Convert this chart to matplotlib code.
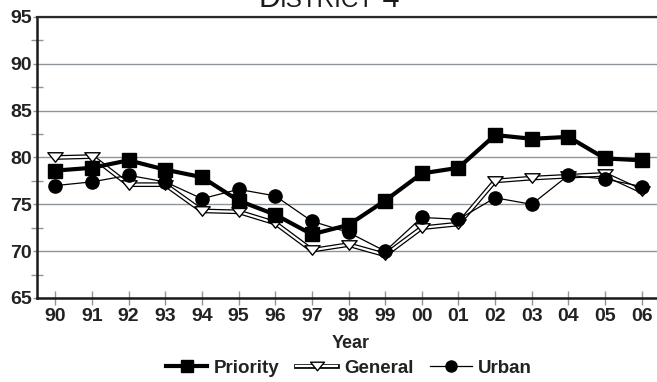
import matplotlib
matplotlib.use("Agg")
import matplotlib.pyplot as plt
from matplotlib.lines import Line2D
from matplotlib.path import Path
from matplotlib.legend_handler import HandlerTuple
from matplotlib.ticker import MultipleLocator

plt.rcParams['font.family'] = ['Liberation Sans', 'DejaVu Sans']

years = ["90", "91", "92", "93", "94", "95", "96", "97", "98",
         "99", "00", "01", "02", "03", "04", "05", "06"]
priority = [78.6, 78.9, 79.7, 78.7, 77.9, 75.4, 73.9, 71.8, 72.8,
            75.4, 78.3, 78.9, 82.4, 82.0, 82.2, 79.9, 79.7]
general = [80.0, 80.1, 77.1, 77.1, 74.3, 74.2, 73.0, 70.1, 70.7,
           69.6, 72.5, 72.9, 77.5, 77.8, 78.0, 78.2, 76.4]
urban = [77.0, 77.4, 78.1, 77.4, 75.6, 76.6, 75.9, 73.2, 72.0,
         70.0, 73.6, 73.4, 75.7, 75.0, 78.1, 77.7, 76.9]

W, H = 657, 382
fig = plt.figure(figsize=(W / 100, H / 100), dpi=100)
ax = fig.add_axes([37 / W, (H - 298) / H, 623 / W, 281 / H])

x = list(range(len(years)))
# flattened downward triangle
tri = Path([(-1, 0.62), (1, 0.62), (0, -0.62), (-1, 0.62)],
           [Path.MOVETO, Path.LINETO, Path.LINETO, Path.CLOSEPOLY])

# General: white channel inside a black outline
ax.plot(x, general, color='black', lw=3.4, zorder=3, solid_joinstyle='miter')
ax.plot(x, general, color='white', lw=1.6, zorder=3.1, solid_joinstyle='miter')
ax.plot(x, general, ls='none', marker=tri, ms=11, mfc='white', mec='black',
        mew=1.0, zorder=3.2)
# Priority: heavy line with squares
ax.plot(x, priority, color='black', lw=3.0, marker='s', ms=9.5, zorder=4)
# Urban: thin line with circles
ax.plot(x, urban, color='black', lw=0.9, marker='o', ms=9.5, zorder=5)

ax.set_xlim(-0.5, 16.5)
ax.set_ylim(65, 95)
ax.set_xticks(x)
ax.set_xticklabels(years)
ax.yaxis.set_major_locator(MultipleLocator(5))
ax.yaxis.set_minor_locator(MultipleLocator(2.5))

grid_c = '#8e959b'
ax.grid(axis='y', which='major', color=grid_c, lw=1.0, zorder=1)
ax.set_axisbelow(True)

for s in ('left', 'bottom'):
    ax.spines[s].set_linewidth(1.8)
    ax.spines[s].set_color('#1a1a1a')
ax.spines['top'].set_linewidth(1.6)
ax.spines['top'].set_color('#2a2a2a')
ax.spines['right'].set_visible(False)

ax.tick_params(axis='y', which='major', direction='out', length=3, width=1,
               color=grid_c, pad=0.5, labelsize=14)
ax.tick_params(axis='y', which='minor', direction='inout', length=8, width=1,
               color=grid_c)
ax.tick_params(axis='x', which='major', direction='inout', length=10, width=1,
               color=grid_c, pad=2, labelsize=14)
for lab in ax.get_xticklabels() + ax.get_yticklabels():
    lab.set_fontweight('bold')
    lab.set_color('#222222')

fig.text(351 / W, 1 - 348 / H, "Year", ha='center', va='baseline',
         fontsize=13, fontweight='bold', color='#222222')

# Legend
h_pri = Line2D([], [], color='black', lw=3.0, marker='s', ms=8)
h_gen = (Line2D([], [], color='black', lw=3.4),
         Line2D([], [], color='white', lw=1.6),
         Line2D([], [], ls='none', marker=tri, ms=10, mfc='white', mec='black', mew=1.0))
h_urb = Line2D([], [], color='black', lw=0.9, marker='o', ms=8)
leg = fig.legend([h_pri, h_gen, h_urb], ["Priority", "General", "Urban"],
                 handler_map={tuple: HandlerTuple(ndivide=1, pad=0)},
                 loc='center', bbox_to_anchor=(349 / W, 1 - 368 / H), ncol=3,
                 frameon=False, handlelength=2.2, handletextpad=0.35,
                 columnspacing=0.9, borderaxespad=0, borderpad=0,
                 prop={'weight': 'bold', 'size': 13.5})
for t in leg.get_texts():
    t.set_color('#222222')

# Title in small capitals, built from pieces
fig.canvas.draw()
renderer = fig.canvas.get_renderer()
pieces = [("D", 22), ("ISTRICT", 17.5), (" 4", 22)]
base_y = 1 - 7 / H
texts = []
for s, sz in pieces:
    t = fig.text(0, base_y, s, fontsize=sz, va='baseline', ha='left', color='#1a1a1a')
    texts.append(t)
widths = [t.get_window_extent(renderer).width for t in texts]
total = sum(widths)
x0 = 329 - total / 2
for t, w in zip(texts, widths):
    t.set_x(x0 / W)
    x0 += w

fig.savefig("out.png", dpi=100)
